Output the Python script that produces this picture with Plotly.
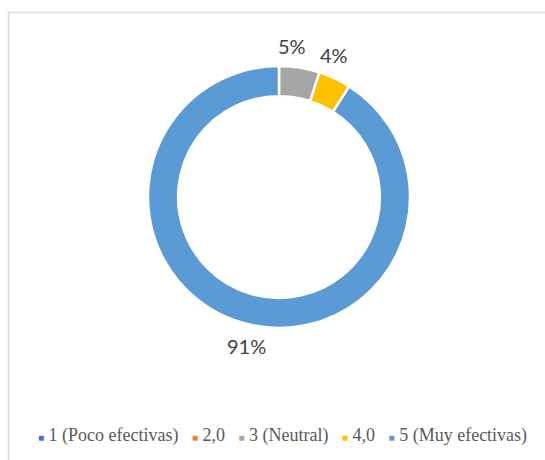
import math
import plotly.graph_objects as go

categories = ["1 (Poco efectivas)", "2,0", "3 (Neutral)", "4,0", "5 (Muy efectivas)"]
values = [0, 0, 5, 4, 91]
colors = ["#4472C4", "#ED7D31", "#A5A5A5", "#FFC000", "#5B9BD5"]

W, H = 545, 460
CX, CY, R = 279, 197, 131          # pie centre / outer radius in pixels
LABEL_R = 152                      # distance of data labels from centre
LABEL_SHIFT = -4                   # degrees, Excel-like nudge

fig = go.Figure(
    go.Pie(
        labels=categories,
        values=values,
        hole=0.77,
        sort=False,
        direction="clockwise",
        rotation=0,
        marker=dict(colors=colors, line=dict(color="white", width=2.5)),
        textinfo="none",
        domain=dict(x=[(CX - R) / W, (CX + R) / W], y=[1 - (CY + R) / H, 1 - (CY - R) / H]),
        showlegend=False,
        hoverinfo="label+percent",
    )
)

# data labels placed at each slice's mid-angle (derived from values)
total = sum(values)
cum = 0.0
for v in values:
    if v > 0:
        mid = (cum + v / 2) / total * 360 + LABEL_SHIFT
        a = math.radians(mid)
        px = CX + LABEL_R * math.sin(a)
        py = CY - LABEL_R * math.cos(a)
        fig.add_annotation(
            x=px / W, y=1 - py / H, xref="paper", yref="paper",
            text=f"{round(v / total * 100)}%", showarrow=False,
            xanchor="center", yanchor="middle",
            font=dict(family="Lato, Open Sans, sans-serif", size=20, color="#404040"),
        )
    cum += v

# legend built as one line of text from categories/colors
parts = []
for c, col in zip(categories, colors):
    parts.append(f"<span style='color:{col};font-size:10px'>■</span>&nbsp;{c}")
legend_text = "&nbsp;&nbsp;&nbsp;".join(parts)

fig.add_annotation(
    x=282 / W, y=1 - 435 / H, xref="paper", yref="paper",
    text=legend_text, showarrow=False, xanchor="center", yanchor="middle",
    font=dict(family="Liberation Serif, Times New Roman, serif", size=18, color="#595959"),
)

# chart frame (left and top edges visible)
fig.add_shape(
    type="rect", xref="paper", yref="paper",
    x0=8.5 / W, y0=-0.05, x1=1.05, y1=1 - 12.5 / H,
    line=dict(color="#D9D9D9", width=1.5), fillcolor="rgba(0,0,0,0)", layer="below",
)

fig.update_layout(
    width=W, height=H,
    margin=dict(l=0, r=0, t=0, b=0),
    paper_bgcolor="white", plot_bgcolor="white",
)

fig.write_html(
    "out.html",
    config={"displayModeBar": False},
    post_script="document.body.style.margin='0';document.body.style.overflow='hidden';",
)
